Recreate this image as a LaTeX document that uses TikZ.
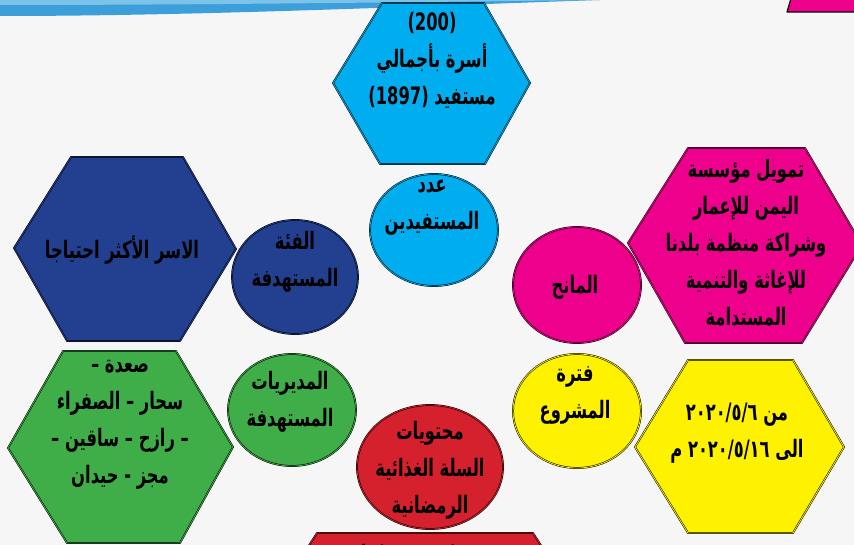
\documentclass[tikz,border=0pt]{standalone}
\usepackage{fontspec}
\newfontfamily\arabicfont[Script=Arabic,FakeStretch=0.68]{DejaVu Sans}
\TeXXeTstate=1
\definecolor{bgray}{HTML}{F6F6F6}
\definecolor{swoosh}{HTML}{3C9FDA}
\definecolor{swooshl}{HTML}{7CC3EA}
\definecolor{cyanA}{HTML}{00AEEF}
\definecolor{navyA}{HTML}{233F8F}
\definecolor{pinkA}{HTML}{EC008C}
\definecolor{greenA}{HTML}{3FAE49}
\definecolor{yellowA}{HTML}{FFF200}
\definecolor{redA}{HTML}{D4212D}
\newcommand\artx[1]{\beginR #1\endR}
\newcommand\lrtx[1]{\beginL #1\endL}

\begin{document}
\begin{tikzpicture}[x=1pt,y=-1pt,line join=round,
  rim/.style={draw=black,line width=0.5pt,double distance=0.8pt},
  lbl/.style={font={\arabicfont\bfseries\fontsize{24}{37}\selectfont},align=center,inner sep=0pt}]
\useasboundingbox (0,0) rectangle (854,545);
\clip (0,0) rectangle (854,545);
\fill[bgray] (0,0) rectangle (854,545);
% band at the top
\fill[swoosh] (0,0) -- (600,0) .. controls (420,6) and (200,16) .. (0,16) -- cycle;
\fill[swooshl] (0,0) -- (600,0) .. controls (420,2) and (200,5) .. (0,5) -- cycle;
\draw[line width=1.2pt,fill=pinkA] (792,-5) -- (787,12) -- (860,12) -- (860,-5);

% hexagons
\draw[rim,double=cyanA,fill=cyanA] (382,3) -- (484,3) -- (530,83) -- (485,164) -- (380,164) -- (333,83) -- cycle;
\draw[rim,double=navyA,fill=navyA] (71,157) -- (183,157) -- (236,249) -- (180,341) -- (67,341) -- (14,248) -- cycle;
\draw[rim,double=pinkA,fill=pinkA] (688,148) -- (805,148) -- (862,245) -- (802,343) -- (685,343) -- (628,243) -- cycle;
\draw[rim,double=greenA,fill=greenA] (63,351) -- (176,351) -- (233,447) -- (180,543) -- (67,543) -- (8,448) -- cycle;
\draw[rim,double=yellowA,fill=yellowA] (688,360) -- (793,360) -- (844,447) -- (793,533) -- (688,533) -- (635,447) -- cycle;
\draw[rim,double=redA,fill=redA] (317,533) -- (533,533) -- (560,575) -- (290,575) -- cycle;

% circles
\draw[rim,double=cyanA,fill=cyanA] (434,230) ellipse (64 and 56);
\draw[rim,double=navyA,fill=navyA] (295,277) ellipse (63 and 57);
\draw[rim,double=pinkA,fill=pinkA] (577,285) ellipse (64 and 58);
\draw[rim,double=greenA,fill=greenA] (292,410) ellipse (64 and 56);
\draw[rim,double=yellowA,fill=yellowA] (577,411) ellipse (64 and 57);
\draw[rim,double=redA,fill=redA] (430,467) ellipse (73 and 62);

% texts
\node[lbl] (nfamilies) at (432,60) {\lrtx{(200)}\\ \artx{أسرة بأجمالي}\\ \artx{مستفيد \lrtx{(1897)}}};
\node[lbl] (nbenef) at (432,208) {\artx{عدد}\\ \artx{المستفيدين}};
\node[lbl] (nneedy) at (122,250) {\artx{الاسر الأكثر احتياجا}};
\node[lbl] (ntarget) at (295,262) {\artx{الفئة}\\ \artx{المستهدفة}};
\node[lbl] (nfund) at (746,243) {\artx{تمويل مؤسسة}\\ \artx{اليمن للإعمار}\\ \artx{وشراكة منظمة بلدنا}\\ \artx{للإغاثة والتنمية}\\ \artx{المستدامة}};
\node[lbl] (ndonor) at (575,287) {\artx{المانح}};
\node[lbl] (ndistricts) at (120,425) {\artx{صعدة –}\\ \artx{سحار – الصفراء}\\ \artx{– رازح – ساقين –}\\ \artx{مجز - حيدان}};
\node[lbl] (ntargetd) at (290,402) {\artx{المديريات}\\ \artx{المستهدفة}};
\node[lbl] (nperiod) at (575,395) {\artx{فترة}\\ \artx{المشروع}};
\node[lbl] (ndates) at (737,433) {\artx{من \lrtx{٢٠٢٠/٥/٦}}\\ \artx{الى \lrtx{٢٠٢٠/٥/١٦} م}};
\node[lbl] (nbasket) at (430,470) {\artx{محتويات}\\ \artx{السلة الغذائية}\\ \artx{الرمضانية}};
\node[lbl] (nflour) at (425,556) {\artx{دقيق كيس ٢٥ كيلو}};
\end{tikzpicture}
\end{document}
